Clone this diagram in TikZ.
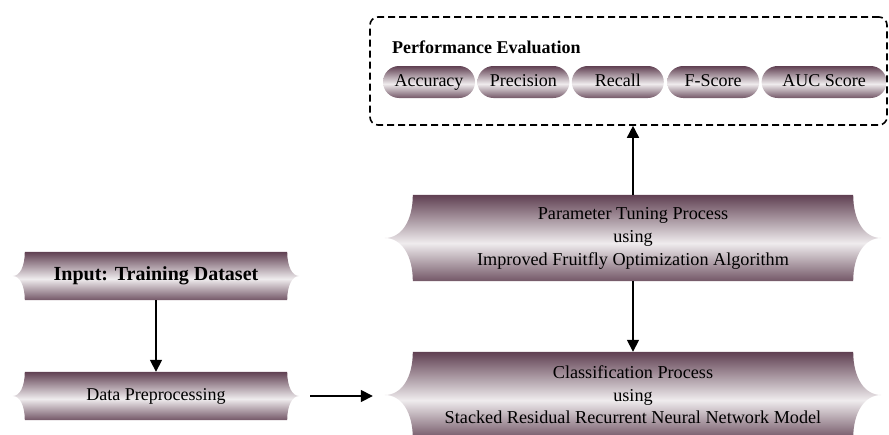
\documentclass[tikz,border=0pt]{standalone}
\usepackage{fontspec}
\setmainfont{Liberation Serif}
\usetikzlibrary{arrows.meta, positioning, calc, backgrounds}
\definecolor{mauve}{RGB}{96,64,82}
\colorlet{mauvelow}{mauve!88}
\colorlet{mauvelight}{white!90!mauve}
\pgfdeclareverticalshading{bandshade}{100bp}{color(0bp)=(mauvelow); color(25bp)=(mauvelow); color(47bp)=(mauvelight); color(75bp)=(mauve); color(100bp)=(mauve)}
% banner with hollow sides: node name, side depth
\newcommand{\bandpath}[2]{%
  \path[shade, shading=bandshade] (#1.north west) -- (#1.north east)
    .. controls ($(#1.north east)!0.6!(#1.east)$) and ($(#1.east)+(#2*0.4,0)$) .. ($(#1.east)+(#2,0)$)
    .. controls ($(#1.east)+(#2*0.4,0)$) and ($(#1.south east)!0.6!(#1.east)$) .. (#1.south east)
    -- (#1.south west)
    .. controls ($(#1.south west)!0.6!(#1.west)$) and ($(#1.west)-(#2*0.4,0)$) .. ($(#1.west)-(#2,0)$)
    .. controls ($(#1.west)-(#2*0.4,0)$) and ($(#1.north west)!0.6!(#1.west)$) .. cycle;}
\tikzset{
  band/.style={inner sep=0pt, align=center, font=\fontsize{18.2}{23}\selectfont},
  pill/.style={shade, shading=bandshade, rounded corners=16pt, minimum height=32pt,
    minimum width=92pt, inner sep=0pt, text height=12.5pt, text depth=4pt,
    font=\fontsize{18}{20}\selectfont},
  arr/.style={line width=1.6pt, -{Triangle[length=12pt,width=12pt]}},
  evalbox/.style={draw, line width=1.6pt, dash pattern=on 7pt off 4pt, rounded corners=8pt}
}
\begin{document}
\begin{tikzpicture}[x=1pt, y=-1pt]
    \useasboundingbox (0,0) rectangle (889,434);

    % Left column
    \node[band, minimum width=262pt, minimum height=48pt, font=\bfseries\fontsize{20}{24}\selectfont] (inp) at (156,276) {Input: Training Dataset};
    \node[band, minimum width=262pt, minimum height=48pt, font=\fontsize{18}{20}\selectfont] (prep) at (156,396) {Data Preprocessing};

    % Right column
    \node[band, minimum width=440pt, minimum height=86pt] (tune) at (633,238) {Parameter Tuning Process\\using\\Improved Fruitfly Optimization Algorithm};
    \node[band, minimum width=440pt, minimum height=86pt, font=\fontsize{18.2}{22.5}\selectfont] (cls) at (633,395) {Classification Process\\using\\Stacked Residual Recurrent Neural Network Model};

    % Evaluation box
    \node[evalbox, minimum width=517pt, minimum height=108pt] (evalbox) at (628.5,71) {};
    \node[anchor=west, inner sep=0pt, font=\bfseries\fontsize{18}{20}\selectfont] (ptitle) at (392,47) {Performance Evaluation};
    \node[pill] (acc) at (429,82) {Accuracy};
    \node[pill, right=2pt of acc] (prec) {Precision};
    \node[pill, right=2pt of prec] (rec) {Recall};
    \node[pill, right=3pt of rec] (fsc) {F-Score};
    \node[pill, right=2pt of fsc, minimum width=125pt] (auc) {AUC Score};

    \begin{scope}[on background layer]
        \foreach \n/\d in {inp/12pt, prep/12pt, tune/28pt, cls/28pt}
            \bandpath{\n}{\d};
    \end{scope}

    % Connectors
    \draw[arr] (inp.south) -- (prep.north);
    \draw[arr, shorten <=23pt, shorten >=40pt] (prep.east) -- (prep.east -| cls.west);
    \draw[arr] (tune.south) -- (cls.north);
    \draw[arr] (tune.north) -- (tune.north |- evalbox.south);
\end{tikzpicture}
\end{document}
